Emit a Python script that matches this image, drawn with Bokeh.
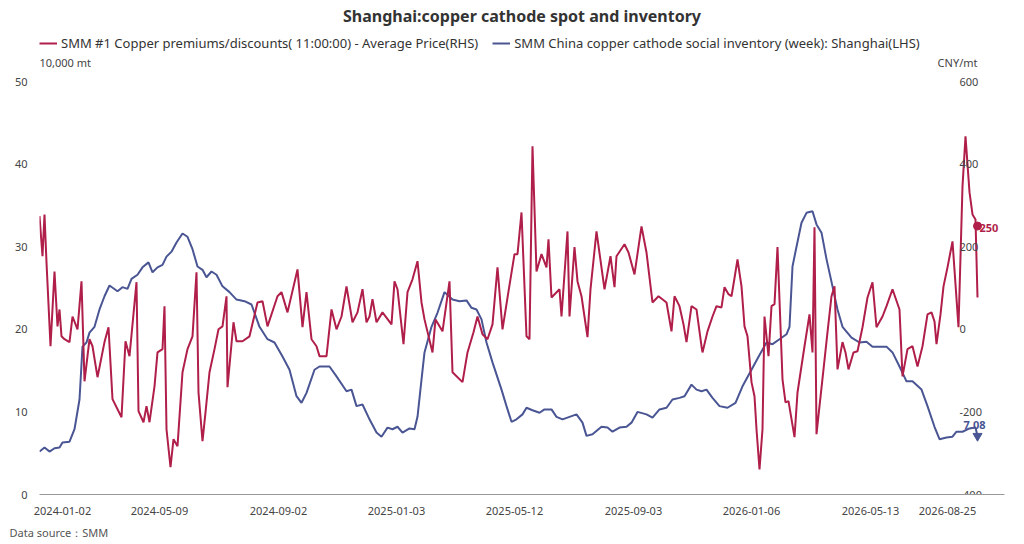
from bokeh.plotting import figure
from bokeh.models import Range1d, Legend, LegendItem, Label, FixedTicker, Title, ColumnDataSource
from bokeh.core.properties import value
from bokeh.embed import file_html
from bokeh.resources import INLINE

# time index (trading-day scale) and values
red_t = [0,3,5,7,11,15,18,20,22,25,30,33,38,42,45,50,53,58,65,69,73,82,86,90,97,99,104,107,110,115,118,123,125,127,131,134,138,143,148,153,157,159,163,166,170,175,179,183,187,188,194,197,203,210,218,223,228,238,242,248,258,263,267,272,277,280,287,292,297,302,307,313,318,323,327,330,333,337,343,352,355,358,364,368,373,378,382,385,393,396,403,410,413,423,428,434,438,443,448,453,458,463,469,475,478,482,487,490,493,497,502,507,509,512,520,522,528,530,535,538,542,548,551,557,565,571,575,577,585,589,595,602,607,613,619,627,632,635,640,644,647,652,657,662,663,668,673,677,682,685,689,692,694,698,702,705,708,712,715,717,720,723,725,729,732,735,738,743,746,749,755,758,765,770,773,775,777,780,784,788,792,795,798,803,806,809,814,818,823,828,833,837,843,847,853,860,863,868,873,878,883,888,892,895,897,901,904,908,913,919,923,926,930,933,936,938]
red_v = [274,177,278,162,-41,140,7,48,-17,-24,-31,31,0,116,-126,-24,-41,-116,-31,5,-169,-213,-29,-65,114,-198,-225,-186,-225,-138,-56,-48,56,-242,-334,-266,-283,-104,-48,-17,138,-153,-271,-201,-104,-48,0,7,80,-140,17,-29,-29,-17,65,68,7,80,90,41,145,5,90,-24,-41,-65,-65,48,0,31,104,17,41,97,17,31,73,17,41,12,116,97,-36,90,121,165,65,24,-56,24,-5,116,-104,-128,-56,-7,31,-12,-24,12,150,0,92,182,182,283,-17,-24,443,140,182,150,218,77,97,31,237,31,199,116,80,-19,97,237,97,177,102,177,206,186,133,249,186,65,80,65,-5,80,56,12,-31,56,48,-41,-56,-5,31,56,53,102,85,80,109,169,104,7,-17,-128,-162,-242,-339,-242,31,-65,56,61,199,-121,-177,-174,-261,-153,-41,36,-56,247,-254,-186,-97,-7,80,104,-97,-31,-56,-97,-56,-53,5,77,114,5,31,56,97,48,-114,-48,-41,-90,-41,36,41,19,-36,36,104,150,213,5,346,467,332,278,266,77,73,-140,412,363,211,250]

blue_t = [0,5,10,15,20,23,30,35,40,43,47,50,55,60,65,70,78,83,88,92,98,103,109,113,118,123,127,132,137,143,148,153,158,163,167,172,177,183,190,197,205,212,220,228,235,243,250,257,262,267,275,280,290,297,307,312,317,323,330,337,342,348,353,358,363,370,375,378,382,385,392,398,405,413,420,427,432,437,442,447,453,462,467,472,477,483,487,493,500,505,512,517,523,530,537,543,547,553,562,568,573,580,587,592,598,607,613,620,627,633,640,645,652,657,662,667,673,680,688,696,703,712,720,727,733,740,747,750,753,757,762,767,773,777,782,787,793,798,803,812,820,827,833,840,847,853,860,867,873,882,888,895,900,907,913,917,923,930,936,938]
blue_v = [5.2,5.7,5.2,5.6,5.7,6.3,6.4,7.9,11.5,17.9,18.4,19.6,20.3,22.4,24.0,25.3,24.6,25.1,24.9,26.1,26.6,27.5,28.1,26.9,27.5,27.8,28.8,29.4,30.5,31.6,31.2,29.7,27.6,27.2,26.3,27.0,26.6,25.2,24.5,23.6,23.4,23.0,20.3,18.8,18.4,16.7,15.1,11.9,11.1,12.3,15.1,15.5,15.5,14.3,12.5,12.7,10.7,10.9,9.1,7.5,7.0,8.1,7.9,8.2,7.5,8.0,7.9,9.4,13.9,17.2,20.3,22.0,24.5,23.6,23.4,23.5,22.6,22.4,21.2,18.4,16.0,12.7,10.7,8.8,9.1,9.7,10.5,10.2,9.9,10.3,10.3,9.4,9.1,9.4,9.7,8.7,7.1,7.3,8.2,8.1,7.6,8.1,8.2,8.7,10.0,9.7,9.3,10.3,10.5,11.5,11.7,11.9,13.3,12.7,12.5,12.7,11.7,10.7,10.5,11.1,13.1,15.1,16.9,18.4,18.2,18.8,19.4,20.3,27.6,30.0,32.9,34.1,34.3,32.7,31.7,28.5,25.2,22.4,20.3,19.0,18.4,18.5,17.9,17.9,17.9,17.2,15.5,13.7,13.7,12.7,10.7,8.2,6.7,6.9,7.0,7.6,7.6,8.0,8.1,7.08]

tick_pos = [23,120,239,357,475,594,712,831,908]
tick_labels = ["2024-01-02","2024-05-09","2024-09-02","2025-01-03","2025-05-12","2025-09-03","2026-01-06","2026-05-13","2026-08-25"]
lhs_ticks = [0, 10, 20, 30, 40, 50]
rhs_ticks = [-400, -200, 0, 200, 400, 600]

RED = "#B01E4A"
BLUE = "#4A5593"
FONT = "Noto Sans"
GREY = "#444444"

LHS_MAX = 50 * 465 / 413
RHS_MIN, RHS_MAX = -400, -400 + 1000 * 465 / 413

p = figure(output_backend="svg", toolbar_location=None,
           frame_width=965, frame_height=465,
           x_range=Range1d(0, 965), y_range=Range1d(0, LHS_MAX),
           min_border_left=39, min_border_right=8, min_border_top=19, min_border_bottom=8)
p.outline_line_color = None
p.xgrid.visible = False
p.ygrid.visible = False
p.title.text = "Shanghai:copper cathode spot and inventory"
p.title.align = "center"
p.title.offset = -25
p.title.text_font = FONT
p.title.text_font_size = "16px"
p.title.text_font_style = "bold"
p.title.text_color = "#333333"
p.title.standoff = 5

p.extra_y_ranges = {"rhs": Range1d(RHS_MIN, RHS_MAX)}

lb = p.line(blue_t, blue_v, color=BLUE, line_width=2)
lr = p.line(red_t, red_v, color=RED, line_width=2, y_range_name="rhs")

p.scatter([red_t[-1]], [red_v[-1]], y_range_name="rhs", size=8, color=RED)
p.scatter([blue_t[-1]], [blue_v[-1]], marker="inverted_triangle", size=9, color=BLUE)
p.add_layout(Label(x=red_t[-1], y=red_v[-1], y_range_name="rhs", text=str(red_v[-1]), x_offset=2, y_offset=-6,
                   text_font=FONT, text_font_size="11px", text_font_style="bold", text_color=RED))
p.add_layout(Label(x=blue_t[-1], y=blue_v[-1], text=str(blue_v[-1]), x_offset=-14, y_offset=7,
                   text_font=FONT, text_font_size="11px", text_font_style="bold", text_color=BLUE))

ax = p.xaxis[0]
ax.ticker = FixedTicker(ticks=tick_pos)
ax.major_label_overrides = {t: l for t, l in zip(tick_pos, tick_labels)}
ax.major_tick_line_color = None
ax.minor_tick_line_color = None
ax.axis_line_color = "#999999"
ax.major_label_text_font = FONT
ax.major_label_text_font_size = "11px"
ax.major_label_text_color = GREY
ax.major_label_standoff = 6

ly = p.yaxis[0]
ly.ticker = FixedTicker(ticks=lhs_ticks)
ly.axis_line_color = None
ly.major_tick_line_color = None
ly.minor_tick_line_color = None
ly.major_label_text_font = FONT
ly.major_label_text_font_size = "11px"
ly.major_label_text_color = GREY
ly.major_label_standoff = 6

rsrc = ColumnDataSource(dict(x=[red_t[-1] - 18] * len(rhs_ticks), y=rhs_ticks, t=[str(v) for v in rhs_ticks]))
p.text(x="x", y="y", text="t", source=rsrc, y_range_name="rhs", text_font=value(FONT),
       text_font_size="11px", text_color=GREY, text_baseline="middle", text_align="left")

legend = Legend(items=[
    LegendItem(label="SMM #1 Copper premiums/discounts( 11:00:00) - Average Price(RHS)", renderers=[lr]),
    LegendItem(label="SMM China copper cathode social inventory (week): Shanghai(LHS)", renderers=[lb]),
], orientation="horizontal", location=(0, 442), label_text_font=FONT, label_text_font_size="13px",
   label_text_color="#333333", glyph_width=18, spacing=14, padding=0, margin=0,
   border_line_color=None, background_fill_alpha=0, label_height=14, glyph_height=14, label_standoff=4)
p.add_layout(legend, "center")

p.add_layout(Label(x=0, y=50, text="10,000 mt", y_offset=12, text_font=FONT, text_font_size="11px", text_color=GREY))
p.add_layout(Label(x=red_t[-1], y=50, text="CNY/mt", y_offset=12, text_align="right", text_font=FONT, text_font_size="11px", text_color=GREY))
p.add_layout(Title(text="Data source：SMM", align="left", offset=-30, text_font=FONT, text_font_size="11px",
                   text_font_style="normal", text_color="#555555"), "below")

open("out.html", "w").write(file_html(p, INLINE))
